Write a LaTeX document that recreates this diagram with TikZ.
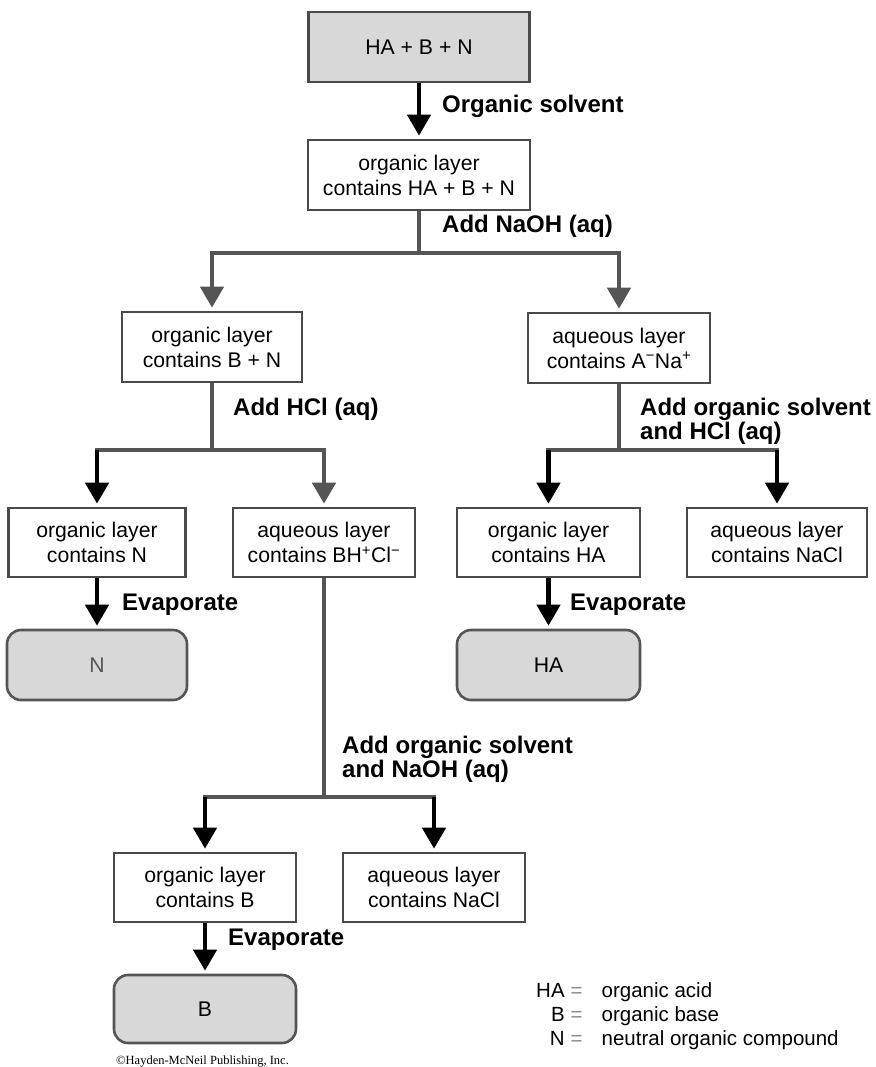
\documentclass[tikz,border=0pt]{standalone}
\usepackage{fontspec}
\setmainfont{Liberation Sans}
\newfontfamily\cpfont{Liberation Serif}
\usetikzlibrary{arrows.meta}
\definecolor{lgray}{HTML}{D8D8D8}
\definecolor{dgray}{HTML}{555555}
\definecolor{bordergray}{HTML}{4A4A4A}
\definecolor{eqgray}{HTML}{8A8A8A}
\tikzset{
  boxnode/.style={draw=bordergray, line width=2.6pt, minimum height=70pt, align=center,
    inner sep=2pt, font=\fontsize{21.2}{25}\selectfont},
  resnode/.style={boxnode, fill=lgray, rounded corners=14pt, draw=dgray},
  startnode/.style={boxnode, fill=lgray},
  conn/.style={line width=4.5pt, draw=dgray},
  arr/.style={conn, -{Triangle[length=21pt,width=23pt]}, shorten >=3pt},
  blackarr/.style={arr, draw=black},
  grayarr/.style={arr},
  lbl/.style={font=\fontsize{24}{23.5}\selectfont\bfseries, inner sep=0pt},
}
\begin{document}
\begin{tikzpicture}[x=1pt,y=-1pt]
\useasboundingbox (0,0) rectangle (875,1067);

% boxes
\node[startnode, minimum width=221pt] (top) at (419,47) {HA + B + N};
\node[boxnode, minimum width=222pt] (org1) at (419,175) {organic layer\\contains HA + B + N};
\node[boxnode, minimum width=180pt] (bn) at (212,347) {organic layer\\contains B + N};
\node[boxnode, minimum width=182pt] (aq1) at (619,348) {aqueous layer\\contains A\textsuperscript{\char"2212}Na\textsuperscript{+}};
\node[boxnode, minimum width=177pt, minimum height=69pt] (oN) at (97,542.5) {organic layer\\contains N};
\node[boxnode, minimum width=182pt, minimum height=69pt] (bh) at (324,542.5) {aqueous layer\\contains BH\textsuperscript{+}Cl\textsuperscript{\char"2212}};
\node[boxnode, minimum width=183pt, minimum height=69pt] (oHA) at (548.5,542.5) {organic layer\\contains HA};
\node[boxnode, minimum width=180pt, minimum height=69pt] (aqNa1) at (777,542.5) {aqueous layer\\contains NaCl};
\node[resnode, minimum width=180pt, text=dgray] (rN) at (97,665) {N};
\node[resnode, minimum width=183pt] (rHA) at (548.5,665) {HA};
\node[boxnode, minimum width=182pt, minimum height=69pt] (oB) at (205,887.5) {organic layer\\contains B};
\node[boxnode, minimum width=182pt, minimum height=69pt] (aqNa2) at (434,887.5) {aqueous layer\\contains NaCl};
\node[resnode, minimum width=182pt, minimum height=68pt] (rB) at (205,1009) {B};

% junctions
\coordinate (j1) at (419,253);
\coordinate (j2) at (212,450);
\coordinate (j3) at (619,450);
\coordinate (j4) at (324,797);

% connectors
\draw[blackarr] (top.south) -- (org1.north);

\draw[conn] (org1.south) -- (j1);
\draw[grayarr] (j1) -| (bn.north);
\draw[grayarr] (j1) -| (aq1.north);

\draw[conn] (bn.south) -- (j2);
\draw[conn, line cap=rect] (oN.north |- j2) -- (bh.north |- j2);
\draw[blackarr] (oN.north |- j2) -- (oN.north);
\draw[grayarr] (bh.north |- j2) -- (bh.north);

\draw[conn] (aq1.south) -- (j3);
\draw[conn, line cap=rect] (oHA.north |- j3) -- (aqNa1.north |- j3);
\draw[blackarr] (oHA.north |- j3) -- (oHA.north);
\draw[blackarr] (aqNa1.north |- j3) -- (aqNa1.north);

\draw[conn] (bh.south) -- (j4);
\draw[conn, line cap=rect] (oB.north |- j4) -- (aqNa2.north |- j4);
\draw[blackarr] (oB.north |- j4) -- (oB.north);
\draw[blackarr] (aqNa2.north |- j4) -- (aqNa2.north);

\draw[blackarr] (oN.south) -- (rN.north);
\draw[blackarr] (oHA.south) -- (rHA.north);
\draw[blackarr] (oB.south) -- (rB.north);

% labels
\node[lbl, anchor=base west] (l1) at (442,113) {Organic solvent};
\node[lbl, anchor=base west] (l2) at (442,233) {Add NaOH (aq)};
\node[lbl, anchor=base west] (l3) at (233,415) {Add HCl (aq)};
\node[lbl, anchor=north west, align=left] (l4) at (640,398) {Add organic solvent\\and HCl (aq)};
\node[lbl, anchor=north west, align=left] (l5) at (342,736) {Add organic solvent\\and NaOH (aq)};
\node[lbl, anchor=base west] (e1) at (122,610) {Evaporate};
\node[lbl, anchor=base west] (e2) at (570,610) {Evaporate};
\node[lbl, anchor=base west] (e3) at (228,945) {Evaporate};

% legend
\node[anchor=base west, inner sep=0pt, font=\fontsize{20.5}{24}\selectfont] (legend) at (536,1045)
  {\begin{tabular}[b]{@{}r@{\hspace{6pt}}c@{\hspace{19pt}}l@{}}
   HA & \textcolor{eqgray}{=} & organic acid\\
   B & \textcolor{eqgray}{=} & organic base\\
   N & \textcolor{eqgray}{=} & neutral organic compound
   \end{tabular}};

\node[anchor=base west, inner sep=0pt, font=\cpfont\fontsize{12.5}{14}\selectfont] (copy) at (116,1064)
  {\char"00A9Hayden-McNeil Publishing, Inc.};
\end{tikzpicture}
\end{document}
